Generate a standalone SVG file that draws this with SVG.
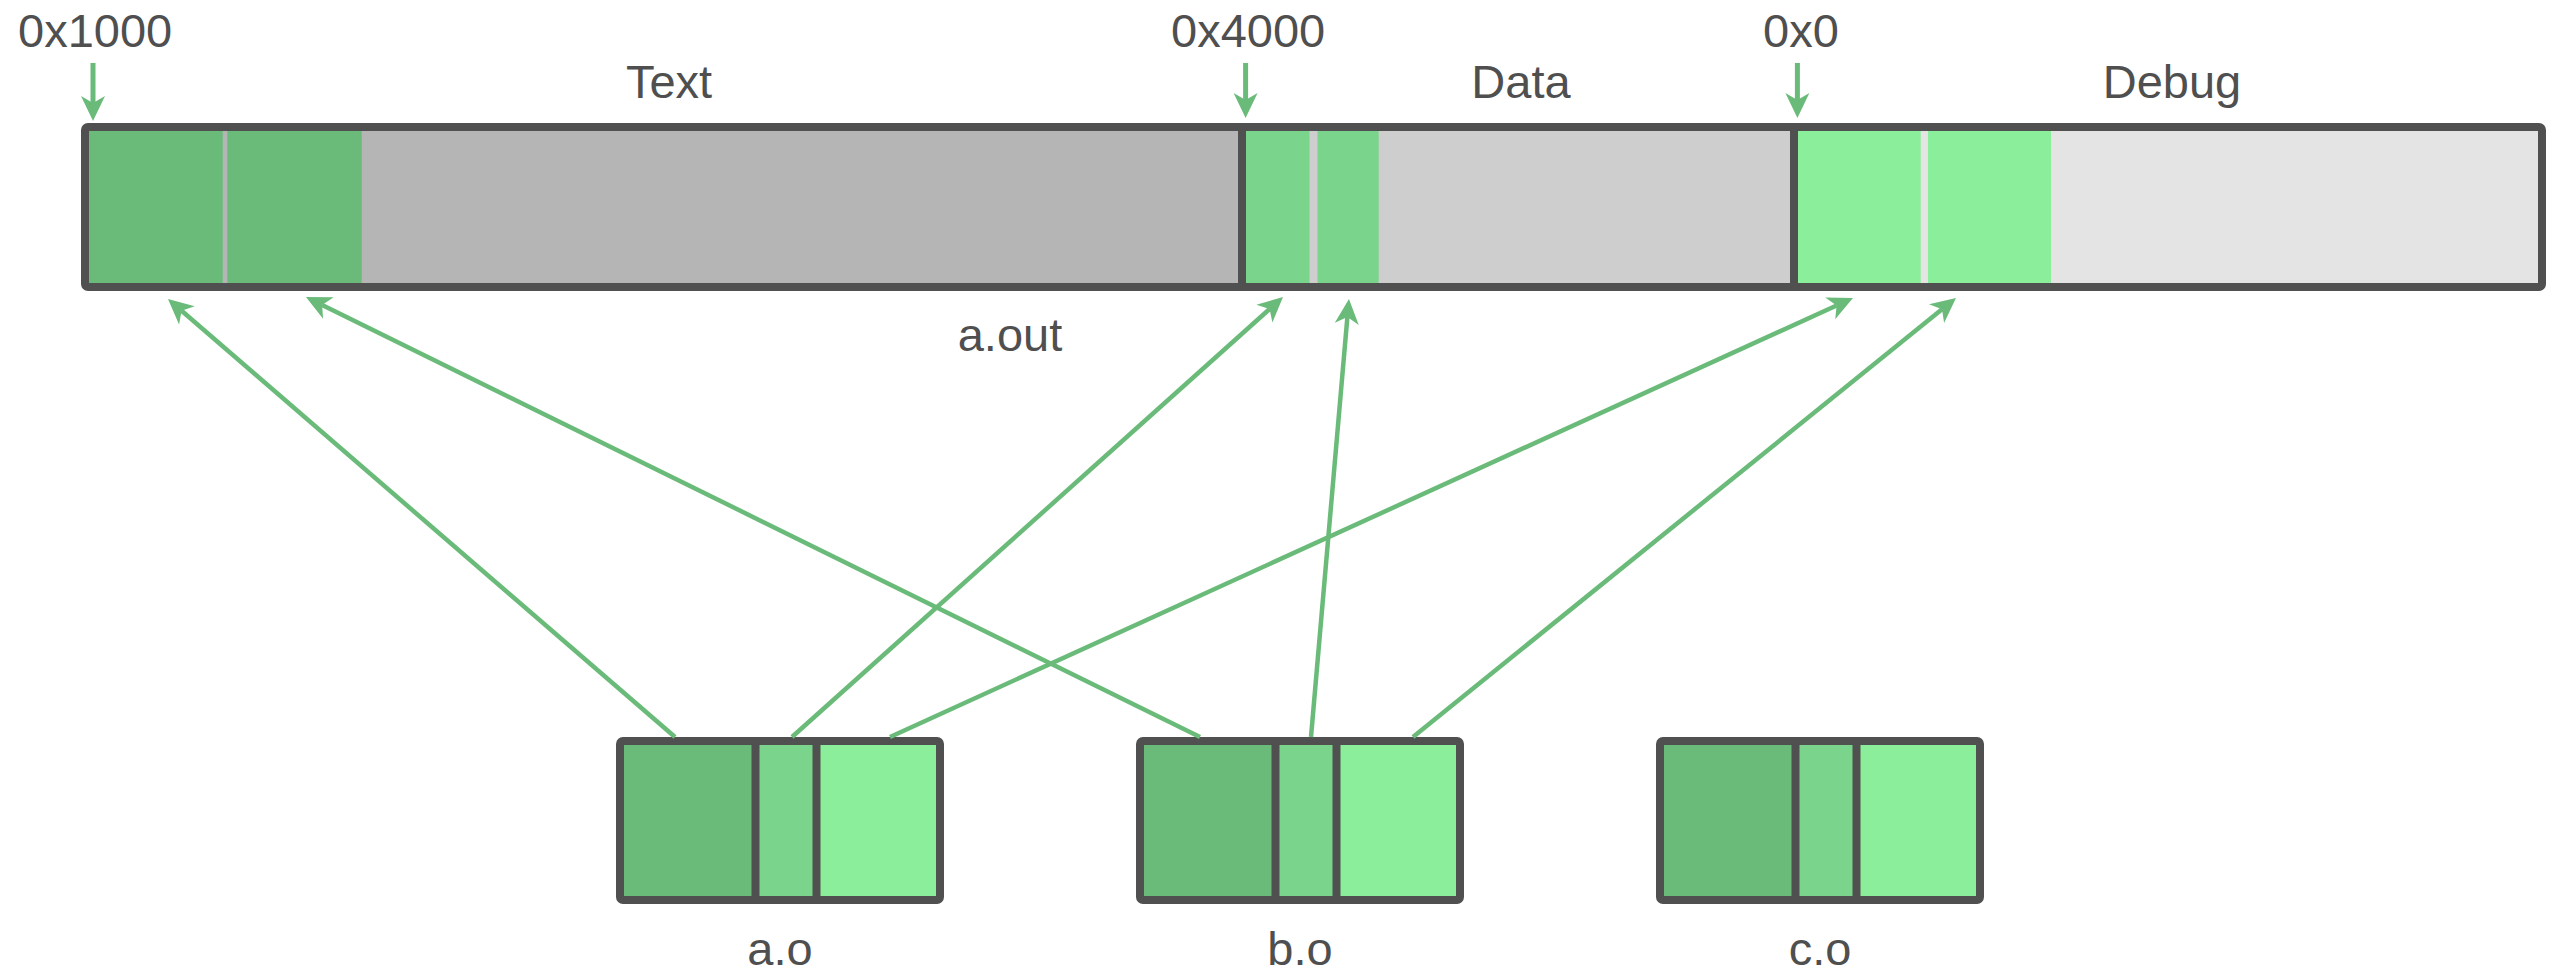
<svg xmlns="http://www.w3.org/2000/svg" width="2556" height="976" viewBox="0 0 2556 976">
  <style>
    .lbl { font-family: "Liberation Sans", Arial, sans-serif; font-size: 47px; fill: #4f4f4f; }
    .mid { text-anchor: middle; }
    .frame { fill: none; stroke: #505050; stroke-width: 8; }
    .div { stroke: #505050; stroke-width: 8; }
    .g1 { fill: #6abb79; }
    .g2 { fill: #7bd48b; }
    .g3 { fill: #8aee9b; }
    .conn { stroke: #6abb79; stroke-width: 4.5; fill: none; marker-end: url(#arr); }
    .addr { stroke: #6abb79; stroke-width: 5; fill: none; marker-end: url(#arr); }
  </style>
  <defs>
    <marker id="arr" markerUnits="userSpaceOnUse" viewBox="-8 -13 28 26" markerWidth="28" markerHeight="26" refX="0" refY="0" orient="auto">
      <path d="M18,0 L-7,-12 L0,0 L-7,12 Z" fill="#6abb79"/>
    </marker>
  </defs>
  <rect width="2556" height="976" fill="#ffffff"/>

  <g id="a_out">
    <rect x="89" y="131" width="1149" height="156" fill="#b5b5b5"/>
    <rect x="89" y="131" width="133.7" height="156" class="g1"/>
    <rect x="227.3" y="131" width="134.4" height="156" class="g1"/>
    <rect x="1246" y="131" width="544" height="156" fill="#cecece"/>
    <rect x="1246" y="131" width="63.5" height="156" class="g2"/>
    <rect x="1317.5" y="131" width="61.2" height="156" class="g2"/>
    <rect x="1798" y="131" width="744" height="156" fill="#e4e4e4"/>
    <rect x="1798" y="131" width="122.7" height="156" class="g3"/>
    <rect x="1928" y="131" width="123" height="156" class="g3"/>
    <line x1="1242" y1="127" x2="1242" y2="287" class="div"/>
    <line x1="1794" y1="127" x2="1794" y2="287" class="div"/>
    <rect x="85" y="127" width="2457" height="160" rx="3" class="frame"/>
    <text x="669" y="98" class="lbl mid">Text</text>
    <text x="1521" y="98" class="lbl mid">Data</text>
    <text x="2172" y="98" class="lbl mid">Debug</text>
    <text x="1010" y="351" class="lbl mid">a.out</text>
    <text x="18" y="47" class="lbl">0x1000</text>
    <text x="1171" y="47" class="lbl">0x4000</text>
    <text x="1763" y="47" class="lbl">0x0</text>
  </g>

  <g id="a_o">
    <rect x="620" y="741" width="135.5" height="159" class="g1"/>
    <rect x="755.5" y="741" width="61" height="159" class="g2"/>
    <rect x="816.5" y="741" width="123.5" height="159" class="g3"/>
    <line x1="755.5" y1="741" x2="755.5" y2="900" class="div"/>
    <line x1="816.5" y1="741" x2="816.5" y2="900" class="div"/>
    <rect x="620" y="741" width="320" height="159" rx="3" class="frame"/>
    <text x="780" y="965" class="lbl mid">a.o</text>
  </g>

  <g id="b_o">
    <rect x="1140" y="741" width="135.5" height="159" class="g1"/>
    <rect x="1275.5" y="741" width="61" height="159" class="g2"/>
    <rect x="1336.5" y="741" width="123.5" height="159" class="g3"/>
    <line x1="1275.5" y1="741" x2="1275.5" y2="900" class="div"/>
    <line x1="1336.5" y1="741" x2="1336.5" y2="900" class="div"/>
    <rect x="1140" y="741" width="320" height="159" rx="3" class="frame"/>
    <text x="1300" y="965" class="lbl mid">b.o</text>
  </g>

  <g id="c_o">
    <rect x="1660" y="741" width="135.5" height="159" class="g1"/>
    <rect x="1795.5" y="741" width="61" height="159" class="g2"/>
    <rect x="1856.5" y="741" width="123.5" height="159" class="g3"/>
    <line x1="1795.5" y1="741" x2="1795.5" y2="900" class="div"/>
    <line x1="1856.5" y1="741" x2="1856.5" y2="900" class="div"/>
    <rect x="1660" y="741" width="320" height="159" rx="3" class="frame"/>
    <text x="1820" y="965" class="lbl mid">c.o</text>
  </g>

  <g id="connectors">
    <line x1="93" y1="63" x2="93" y2="103" class="addr"/>
    <line x1="1245.6" y1="63" x2="1245.6" y2="100" class="addr"/>
    <line x1="1797.4" y1="63" x2="1797.4" y2="100" class="addr"/>
    <line x1="675" y1="737" x2="181.6" y2="310.8" class="conn"/>
    <line x1="792" y1="737" x2="1269.6" y2="309" class="conn"/>
    <line x1="890" y1="737" x2="1836.6" y2="305.5" class="conn"/>
    <line x1="1200" y1="737" x2="322.1" y2="304.9" class="conn"/>
    <line x1="1311" y1="737" x2="1347.4" y2="316.9" class="conn"/>
    <line x1="1413" y1="737" x2="1942" y2="309.3" class="conn"/>
  </g>
</svg>
